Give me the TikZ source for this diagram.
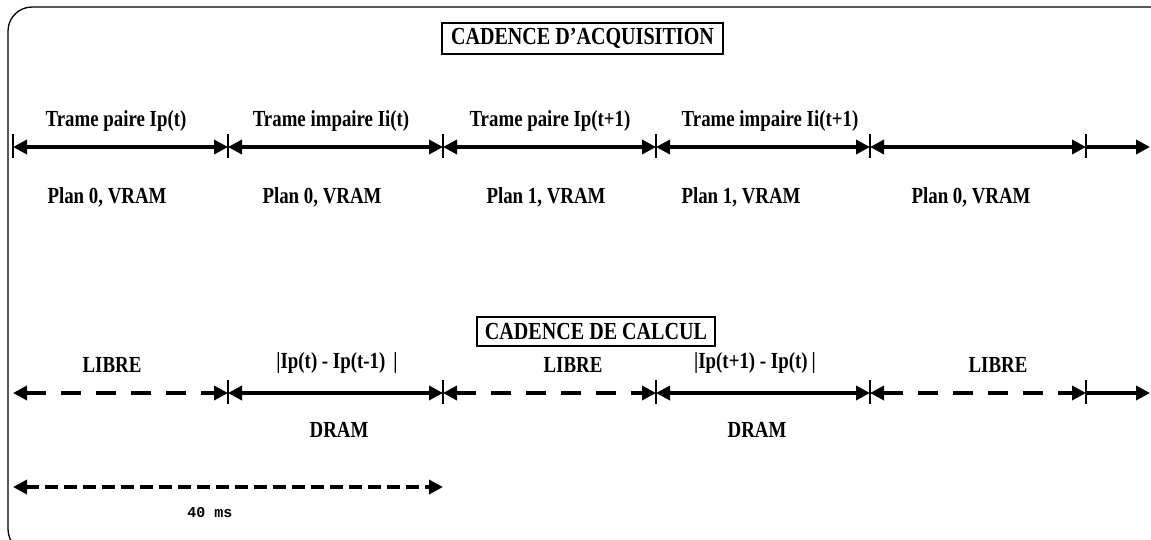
\documentclass[tikz,border=0pt]{standalone}
\usepackage{fontspec}
\newfontfamily\lblfont[FakeStretch=0.82]{Liberation Serif}
\newfontfamily\msfont{Liberation Mono}
\usetikzlibrary{arrows.meta}

\begin{document}
\begin{tikzpicture}[x=1pt,y=-1pt,
  lbl/.style={font=\lblfont\bfseries\fontsize{23}{26}\selectfont, inner sep=0pt, anchor=base},
  heading/.style={draw, line width=1.2pt, inner sep=0pt,
    font=\lblfont\bfseries\fontsize{24.5}{28}\selectfont},
  tip/.tip={Triangle[length=14pt,width=14pt]},
  seg/.style={line width=3.4pt, tip-tip},
  segr/.style={line width=3.4pt, -tip},
  gap/.style={dash pattern=on 20pt off 15pt},
  tick/.style={line width=1.8pt},
  frame/.style={line width=1.3pt, rounded corners=24pt}
]
\useasboundingbox (0,0) rectangle (1151,539);
\clip (0,0) rectangle (1151,539);

% outer frame
\draw[frame] (1160,7) -- (8,7) -- (8,553) -- (60,553);

% ---------- acquisition ----------
\node[heading, minimum width=281pt, minimum height=31pt] (h1) at (582.5,38.5) {CADENCE D’ACQUISITION};

\foreach \n/\x in {0/13,1/228,2/443,3/656,4/870,5/1086}{
  \coordinate (a\n) at (\x,147);
  \draw[tick] (\x,134) -- (\x,158);
}
\coordinate (aend) at (1150,147);

\draw[seg] (a0) -- (a1);
\draw[seg] (a1) -- (a2);
\draw[seg] (a2) -- (a3);
\draw[seg] (a3) -- (a4);
\draw[seg] (a4) -- (a5);
\draw[segr] (a5) -- (aend);

\node[lbl] (ta1) at (116,126) {Trame paire Ip(t)};
\node[lbl] (ta2) at (331,126) {Trame impaire Ii(t)};
\node[lbl] (ta3) at (550,126) {Trame paire Ip(t+1)};
\node[lbl] (ta4) at (770,126) {Trame impaire Ii(t+1)};

\node[lbl] (pa1) at (107,203) {Plan 0, VRAM};
\node[lbl] (pa2) at (322,203) {Plan 0, VRAM};
\node[lbl] (pa3) at (546,203) {Plan 1, VRAM};
\node[lbl] (pa4) at (741,203) {Plan 1, VRAM};
\node[lbl] (pa5) at (971,203) {Plan 0, VRAM};

% ---------- calcul ----------
\node[heading, minimum width=238pt, minimum height=29pt] (h2) at (596,331.5) {CADENCE DE CALCUL};

\coordinate (b0) at (13,393);
\foreach \n/\x in {1/228,2/443,3/656,4/870,5/1086}{
  \coordinate (b\n) at (\x,393);
  \draw[tick] (\x,380) -- (\x,404);
}
\coordinate (bend) at (1150,393);

\draw[seg, gap] (b0) -- (b1);
\draw[seg] (b1) -- (b2);
\draw[seg, gap] (b2) -- (b3);
\draw[seg] (b3) -- (b4);
\draw[seg, gap] (b4) -- (b5);
\draw[segr] (b5) -- (bend);

\node[lbl] (lb1) at (112,372) {LIBRE};
\node[lbl] (cb1) at (337,368) {|Ip(t) - Ip(t-1)\hspace{8pt}|};
\node[lbl] (lb2) at (573,372) {LIBRE};
\node[lbl] (cb2) at (755,368) {|Ip(t+1) - Ip(t)\hspace{4pt}|};
\node[lbl] (lb3) at (998,372) {LIBRE};

\node[lbl] (db1) at (339,437) {DRAM};
\node[lbl] (db2) at (757,437) {DRAM};

% ---------- duree d'une image ----------
\coordinate (c0) at (13,487);
\coordinate (c1) at (443,487);
\draw[seg, dash pattern=on 13pt off 6pt] (c0) -- (c1);
\node[inner sep=0pt, anchor=base, font=\msfont\bfseries\fontsize{15}{18}\selectfont] (ms) at (210,517) {40 ms};

\end{tikzpicture}
\end{document}
